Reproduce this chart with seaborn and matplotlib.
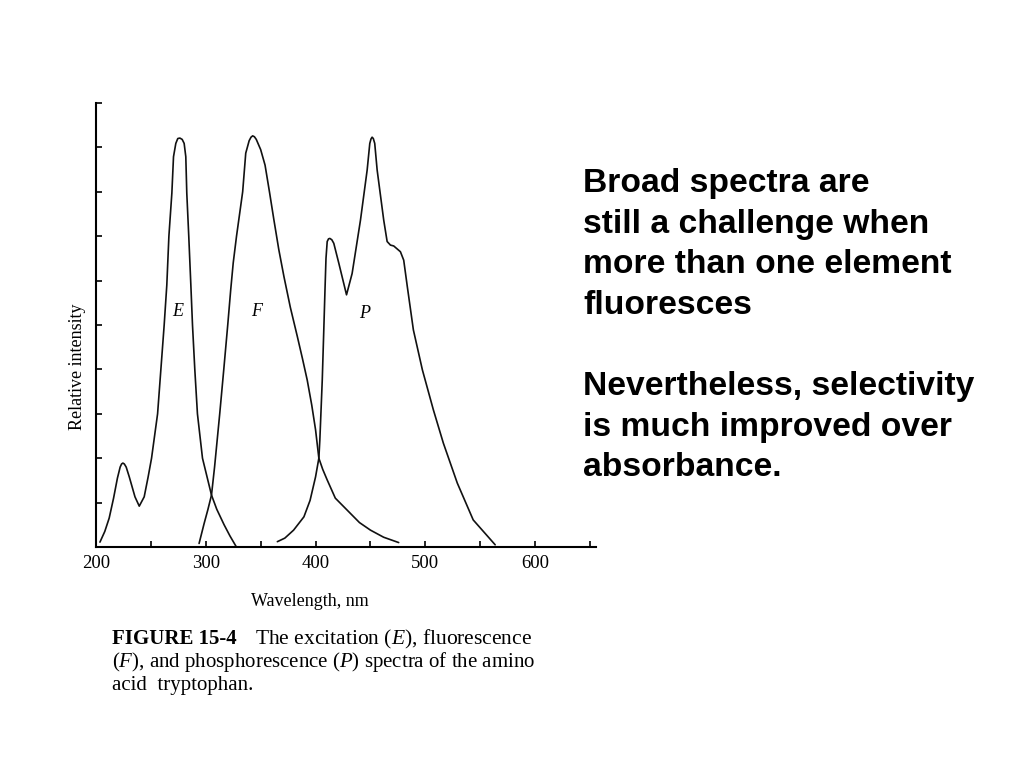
import seaborn as sns
import matplotlib.pyplot as plt
import pandas as pd

# excitation spectrum (E)
e_wl = [203.6, 208, 212, 216, 219.5, 222, 223.3, 224.5, 225.8, 227.5, 230.3, 235.5,
        239.4, 243.9, 247.5, 250.6, 256.1, 259.1, 262.1, 264.5, 266.4, 269.1, 270.6,
        272.7, 274.5, 276.4, 278.5, 280.3, 281.8, 282.7, 284.5, 286.4, 287.9, 290,
        292.4, 297, 305.2, 310, 316.7, 322, 327.9]
e_val = [0.11, 0.35, 0.65, 1.1, 1.55, 1.8, 1.87, 1.89, 1.87, 1.8, 1.58, 1.13,
         0.92, 1.13, 1.58, 2.0, 3.0, 4.0, 5.0, 5.9, 7.0, 7.97, 8.79,
         9.09, 9.2, 9.21, 9.18, 9.09, 8.79, 7.97, 7.0, 5.9, 5.0, 4.0,
         3.0, 2.0, 1.17, 0.85, 0.5, 0.25, 0.0]

# fluorescence spectrum (F)
f_wl = [293.9, 298.5, 302, 305.2, 308, 312.7, 316.4, 320, 322.7, 325, 328, 333.6,
        336.4, 339.5, 341.2, 342.7, 344.3, 346, 350, 354, 358, 362.1, 366.5, 371.2,
        377, 383.4, 388, 392.4, 396.5, 400, 403, 406.5, 410.6, 418, 428.8, 440,
        450, 462, 475.7]
f_val = [0.08, 0.53, 0.85, 1.17, 1.8, 3.0, 4.0, 5.0, 5.79, 6.4, 7.0, 8.0,
         8.87, 9.15, 9.23, 9.26, 9.24, 9.18, 8.95, 8.6, 8.0, 7.36, 6.7, 6.09,
         5.4, 4.74, 4.25, 3.76, 3.2, 2.64, 2.0, 1.75, 1.51, 1.1, 0.83, 0.55,
         0.38, 0.22, 0.1]

# phosphorescence spectrum (P)
p_wl = [365.2, 372, 380, 389.4, 395, 400, 403, 403.9, 406.1, 407.5, 408.6, 409.5,
        410.6, 411.8, 413, 414.8, 416.6, 421.2, 428.2, 433.3, 440.9, 447, 449.4,
        450.5, 451.5, 452.6, 453.9, 456.1, 462.1, 465.2, 468.2, 471.2, 477.3,
        480.3, 483.6, 489.1, 497.3, 507.3, 516.4, 529.1, 543.6, 563.6]
p_val = [0.12, 0.2, 0.38, 0.68, 1.05, 1.58, 2.0, 2.41, 3.76, 4.89, 5.8, 6.5,
         6.88, 6.94, 6.95, 6.92, 6.84, 6.39, 5.68, 6.16, 7.36, 8.49, 9.09,
         9.19, 9.23, 9.2, 9.09, 8.49, 7.36, 6.88, 6.8, 6.78, 6.65,
         6.46, 5.86, 4.89, 3.99, 3.09, 2.34, 1.44, 0.61, 0.05]

curve_labels = {'E': (274.5, 5.3), 'F': (346.0, 5.3), 'P': (445.0, 5.25)}
major_ticks = [200, 300, 400, 500, 600]
minor_ticks = [250, 350, 450, 550, 650]

side_lines = ['Broad spectra are', 'still a challenge when', 'more than one element',
              'fluoresces', '', 'Nevertheless, selectivity', 'is much improved over',
              'absorbance.']

sns.set_style('white')
plt.rcParams['font.family'] = ['Liberation Serif', 'DejaVu Serif']
plt.rcParams['mathtext.fontset'] = 'custom'
plt.rcParams['mathtext.rm'] = 'Liberation Serif'
plt.rcParams['mathtext.it'] = 'Liberation Serif:italic'
plt.rcParams['text.color'] = 'black'
plt.rcParams['axes.labelcolor'] = 'black'
plt.rcParams['xtick.color'] = 'black'
plt.rcParams['ytick.color'] = 'black'

fig = plt.figure(figsize=(10.24, 7.68), dpi=100)
W, H = 1024, 768
ax = fig.add_axes([96 / W, 1 - 547 / H, 499.5 / W, 444 / H])

df = pd.concat([
    pd.DataFrame({'wl': e_wl, 'val': e_val, 'spec': 'E'}),
    pd.DataFrame({'wl': f_wl, 'val': f_val, 'spec': 'F'}),
    pd.DataFrame({'wl': p_wl, 'val': p_val, 'spec': 'P'}),
])
for name, grp in df.groupby('spec'):
    sns.lineplot(data=grp, x='wl', y='val', ax=ax, color='#111111', lw=1.2)

for lab, (x, y) in curve_labels.items():
    ax.text(x, y, lab, fontsize=13, style='italic', ha='center', va='center')

ax.set_xlim(200, 655)
ax.set_ylim(0, 10)
ax.set_xticks(major_ticks)
ax.set_xticklabels([str(t) for t in major_ticks], fontsize=13.5)
ax.set_xticks(minor_ticks, minor=True)
ax.set_yticks(range(0, 11))
ax.set_yticklabels([])
ax.tick_params(axis='both', which='both', direction='in', length=4, width=1.2,
               color='black', bottom=True, left=True)
ax.tick_params(axis='x', pad=6)
for side in ['top', 'right']:
    ax.spines[side].set_visible(False)
for side in ['left', 'bottom']:
    ax.spines[side].set_color('black')
    ax.spines[side].set_linewidth(1.5)

ax.set_xlabel('')
ax.set_ylabel('')
fig.text(310 / W, 1 - 602 / H, 'Wavelength, nm', fontsize=13, ha='center', va='center')
fig.text(78 / W, 1 - 367 / H, 'Relative intensity', fontsize=13, rotation=90,
         ha='center', va='center')

# caption under the figure
fig.text(112 / W, 1 - 644 / H, 'FIGURE 15-4', fontsize=15, fontweight='bold')
fig.text(255 / W, 1 - 644 / H, 'The excitation ($E$), fluorescence', fontsize=15.5)
fig.text(112 / W, 1 - 667 / H, '($F$), and phosphorescence ($P$) spectra of the amino',
         fontsize=15)
fig.text(112 / W, 1 - 690 / H, 'acid  tryptophan.', fontsize=15)

# slide text on the right
for i, line in enumerate(side_lines):
    fig.text(583 / W, 1 - (192 + 40.6 * i) / H, line, fontsize=24.2,
             fontweight='bold', family='Liberation Sans', va='baseline')

fig.savefig('out.png', dpi=100)
